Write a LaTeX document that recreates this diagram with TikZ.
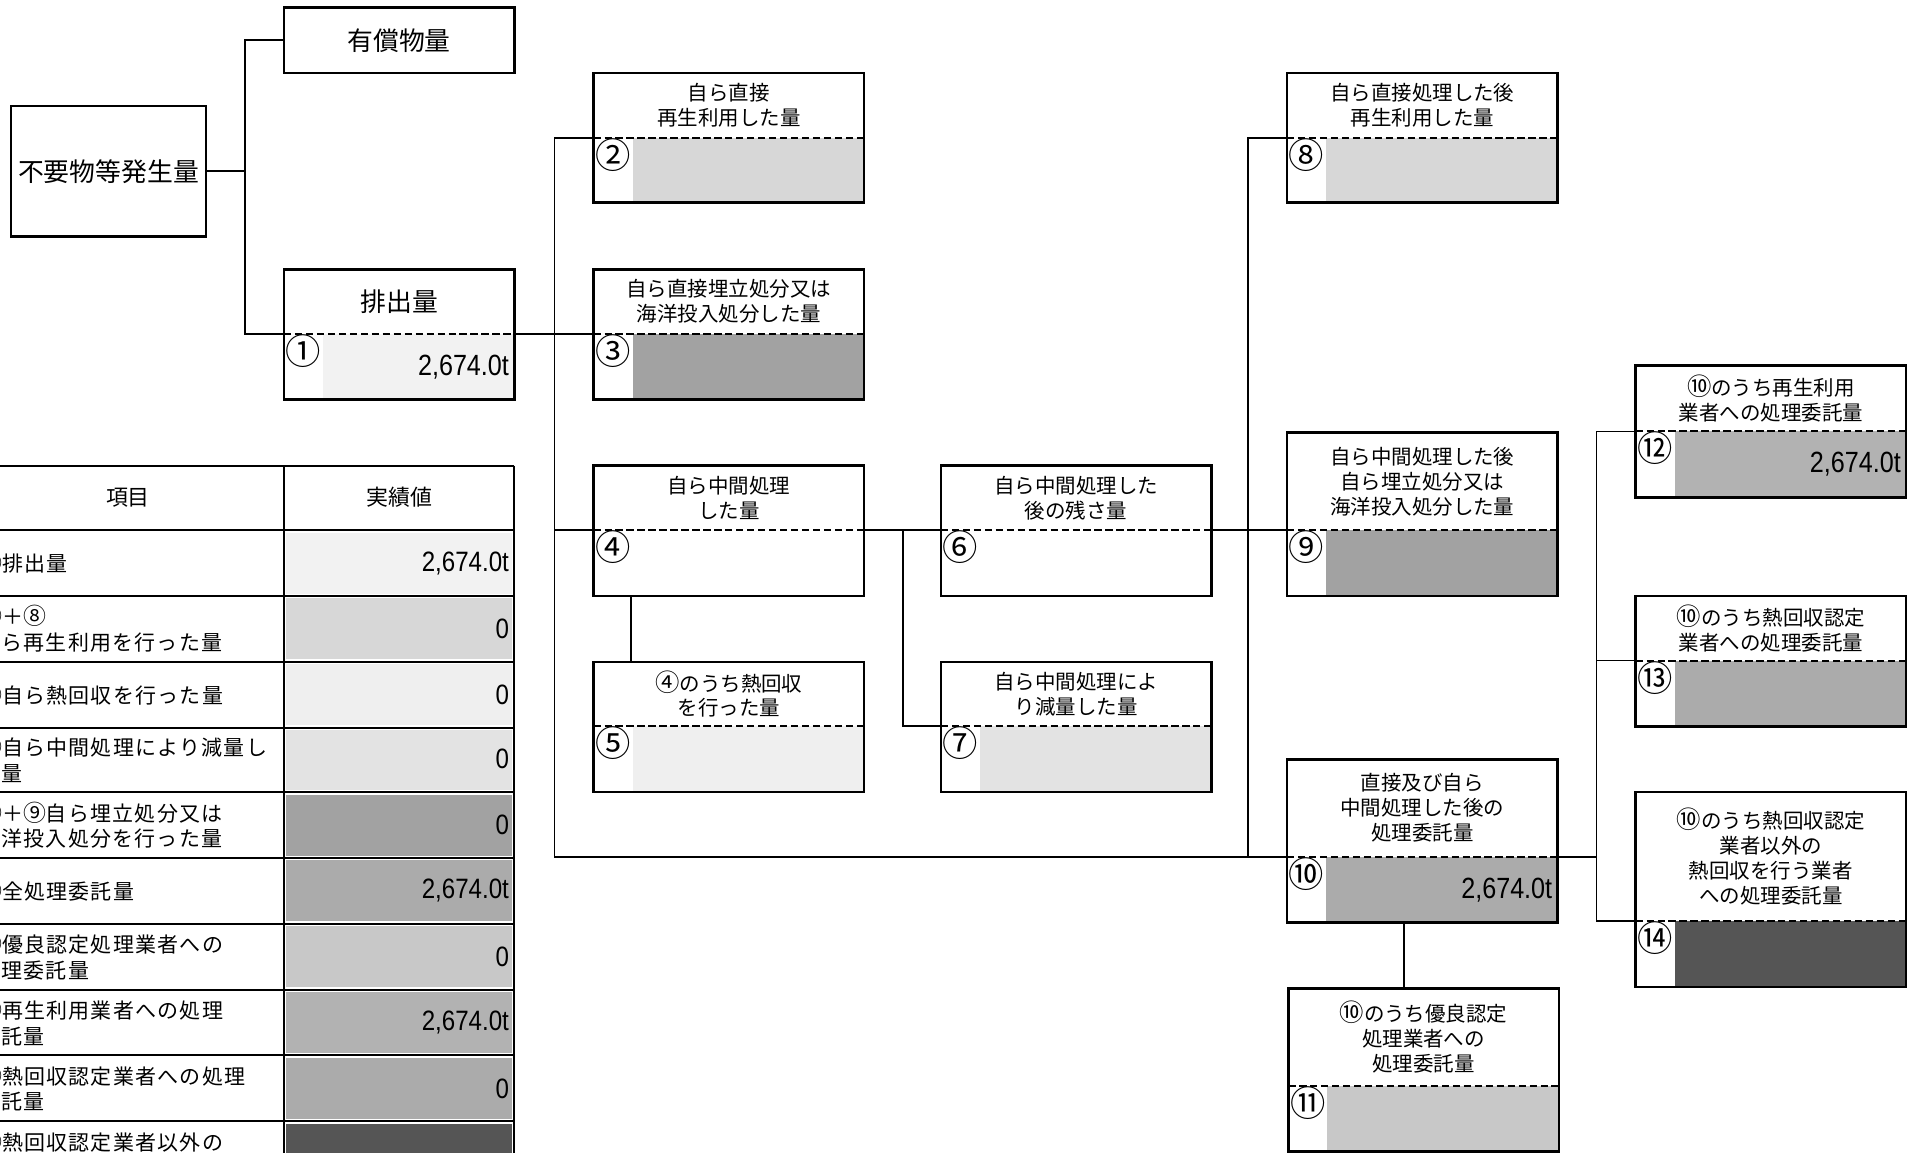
\documentclass[tikz,border=0pt]{standalone}
\usepackage{fontspec}
\setmainfont{Noto Sans CJK JP}
\newfontfamily\numfont[FakeStretch=0.86]{Liberation Sans}
\newfontfamily\tabfont[LetterSpace=6]{Noto Sans CJK JP}
\definecolor{ca}{HTML}{F2F2F2}
\definecolor{cb}{HTML}{D7D7D7}
\definecolor{cc}{HTML}{A2A2A2}
\definecolor{cd}{HTML}{EFEFEF}
\definecolor{ce}{HTML}{E3E3E3}
\definecolor{cf}{HTML}{ABABAB}
\definecolor{cg}{HTML}{C8C8C8}
\definecolor{ch}{HTML}{B2B2B2}
\definecolor{ci}{HTML}{555555}
\def\bw{222}
\newcommand\cnum[1]{{\fontsize{10pt}{10.5pt}\selectfont #1}}
\newcommand\tnum[1]{{\fontsize{9.4pt}{10.5pt}\selectfont #1}}
\newcommand\flowbox[9]{%
  \fill[#6] (#2+32,#4) rectangle (#2+\bw-1,#5-1);
  \node[boxframe,minimum width={\bw*0.5pt},minimum height={(#5-#3)*0.5pt}] (#1) at (#2,#3) {};
  \coordinate (#1-l) at (#2,#4);
  \coordinate (#1-r) at (#2+\bw,#4);
  \draw[dashln] (#1-l) -- (#1-r);
  \node[ttl] (#1-t) at (#2+\bw/2,{(#3+#4)/2}) {#8};
  \node[num] (#1-n) at (#2+16,#4+14) {#7};
  \node[val] (#1-v) at (#2+\bw-4,#4+27) {#9};
}
\begin{document}
\begin{tikzpicture}[x=0.5pt,y=-0.5pt,
  boxframe/.style={draw=black,line width=1.05pt,anchor=north west,inner sep=0pt,outer sep=0pt},
  conn/.style={draw=black,line width=0.75pt},
  dashln/.style={draw=black,line width=0.8pt,dash pattern=on 3pt off 1.5pt},
  ttl/.style={align=center,inner sep=0pt,font=\fontsize{8.4pt}{10.2pt}\selectfont},
  bigt/.style={inner sep=0pt,font=\fontsize{10.6pt}{12pt}\selectfont},
  num/.style={inner sep=0pt,font=\fontsize{14.5pt}{14.5pt}\selectfont},
  val/.style={anchor=east,inner sep=0pt,font=\numfont\fontsize{12pt}{12pt}\selectfont},
  tabtxt/.style={anchor=west,align=left,inner sep=0pt,font=\tabfont\fontsize{8.6pt}{10.5pt}\selectfont},
  tabhead/.style={inner sep=0pt,font=\fontsize{9pt}{10pt}\selectfont},
  tabval/.style={anchor=east,inner sep=0pt,font=\numfont\fontsize{11.5pt}{12pt}\selectfont},
  tabline/.style={draw=black,line width=0.8pt},
]
\useasboundingbox (0,0) rectangle (1568,946);
\fill[white] (0,0) rectangle (1568,946);
\clip (0,0) rectangle (1568,946);

% top-left boxes
\node[boxframe,minimum width=80pt,minimum height=53.5pt] (hatsu) at (9,87) {};
\node[bigt] (hatsu-t) at (hatsu.center) {不要物等発生量};
\node[boxframe,minimum width=94.5pt,minimum height=27pt] (yusho) at (233,6) {};
\node[bigt] (yusho-t) at (yusho.center) {有償物量};

\def\bw{189}
\flowbox{b1}{233}{221}{274}{328}{ca}{①}{\fontsize{10.6pt}{12pt}\selectfont 排出量}{2,674.0t}
\def\bw{222}
\flowbox{b2}{487}{60}{113}{166}{cb}{②}{自ら直接\\再生利用した量}{}
\flowbox{b3}{487}{221}{274}{328}{cc}{③}{自ら直接埋立処分又は\\海洋投入処分した量}{}
\flowbox{b4}{487}{382}{435}{489}{white}{④}{自ら中間処理\\した量}{}
\flowbox{b5}{487}{543}{596}{650}{cd}{⑤}{\cnum{④}のうち熱回収\\を行った量}{}
\flowbox{b6}{772}{382}{435}{489}{white}{⑥}{自ら中間処理した\\後の残さ量}{}
\flowbox{b7}{772}{543}{596}{650}{ce}{⑦}{自ら中間処理によ\\り減量した量}{}
\flowbox{b8}{1056}{60}{113}{166}{cb}{⑧}{自ら直接処理した後\\再生利用した量}{}
\flowbox{b9}{1056}{355}{435}{489}{cc}{⑨}{自ら中間処理した後\\自ら埋立処分又は\\海洋投入処分した量}{}
\flowbox{b10}{1056}{623}{703}{757}{cf}{⑩}{直接及び自ら\\中間処理した後の\\処理委託量}{2,674.0t}
\flowbox{b11}{1057}{811}{891}{945}{cg}{⑪}{\cnum{⑩}のうち優良認定\\処理業者への\\処理委託量}{}
\flowbox{b12}{1342}{300}{354}{408}{ch}{⑫}{\cnum{⑩}のうち再生利用\\業者への処理委託量}{2,674.0t}
\flowbox{b13}{1342}{489}{542}{596}{cf}{⑬}{\cnum{⑩}のうち熱回収認定\\業者への処理委託量}{}
\flowbox{b14}{1342}{650}{756}{810}{ci}{⑭}{\cnum{⑩}のうち熱回収認定\\業者以外の\\熱回収を行う業者\\への処理委託量}{}

% connectors
\draw[conn] (hatsu.east) -- ++(32,0) coordinate (j0) |- (yusho.west);
\draw[conn] (j0) |- (b1-l);
\draw[conn] (b1-r) -- (b3-l);
\draw[conn] (b2-l) -- ++(-32,0) coordinate (j1) |- (b10-l);
\draw[conn] (j1 |- b4-l) -- (b4-l);
\draw[conn] (b4-r) -- (b6-l);
\draw[conn] (b4-r) -- ++(32,0) |- (b7-l);
\draw[conn] ([xshift=15.5pt]b4.south west) -- ([xshift=15.5pt]b5.north west);
\draw[conn] (b6-r) -- (b9-l);
\draw[conn] (b8-l) -- ++(-32,0) |- (b10-l);
\draw[conn] ([xshift=48pt]b10.south west) -- ([xshift=48pt]b10.south west |- b11.north);
\draw[conn] (b10-r) -- ++(32,0) coordinate (j3) |- (b12-l);
\draw[conn] (j3) |- (b13-l);
\draw[conn] (j3) |- (b14-l);

% table fills
\fill[ca] (235,437) rectangle (420,487);
\fill[cb] (235,491) rectangle (420,541);
\fill[cd] (235,545) rectangle (420,595);
\fill[ce] (235,599) rectangle (420,648);
\fill[cc] (235,652) rectangle (420,702);
\fill[cf] (235,706) rectangle (420,756);
\fill[cg] (235,760) rectangle (420,810);
\fill[ch] (235,814) rectangle (420,864);
\fill[cf] (235,868) rectangle (420,918);
\fill[ci] (235,922) rectangle (420,960);
% table lines
\draw[tabline] (-20,382) -- (422,382);
\foreach \yy in {435,489,543,597,650,704,758,812,866,920}
  \draw[tabline] (-20,\yy) -- (422,\yy);
\draw[tabline] (233,382) -- (233,960);
\draw[tabline] (422,382) -- (422,960);
% table text
\node[tabhead] (th1) at (105,408) {項目};
\node[tabhead] (th2) at (328,408) {実績値};
\node[tabtxt] (r1) at (-17.5,462) {\tnum{①}排出量};
\node[tabtxt] (r2) at (-17.5,516) {\tnum{②}＋\tnum{⑧}\\自ら再生利用を行った量};
\node[tabtxt] (r3) at (-17.5,570) {\tnum{⑤}自ら熱回収を行った量};
\node[tabtxt] (r4) at (-17.5,623) {\tnum{⑦}自ら中間処理により減量し\\た量};
\node[tabtxt] (r5) at (-17.5,677) {\tnum{③}＋\tnum{⑨}自ら埋立処分又は\\海洋投入処分を行った量};
\node[tabtxt] (r6) at (-17.5,731) {\tnum{⑩}全処理委託量};
\node[tabtxt] (r7) at (-17.5,785) {\tnum{⑪}優良認定処理業者への\\処理委託量};
\node[tabtxt] (r8) at (-17.5,839) {\tnum{⑫}再生利用業者への処理\\委託量};
\node[tabtxt] (r9) at (-17.5,893) {\tnum{⑬}熱回収認定業者への処理\\委託量};
\node[tabtxt] (r10) at (-17.5,937) {\tnum{⑭}熱回収認定業者以外の};
\node[tabval] (v1) at (418,462) {2,674.0t};
\node[tabval] (v2) at (418,516) {0};
\node[tabval] (v3) at (418,570) {0};
\node[tabval] (v4) at (418,623) {0};
\node[tabval] (v5) at (418,677) {0};
\node[tabval] (v6) at (418,731) {2,674.0t};
\node[tabval] (v7) at (418,785) {0};
\node[tabval] (v8) at (418,839) {2,674.0t};
\node[tabval] (v9) at (418,893) {0};
\end{tikzpicture}
\end{document}
